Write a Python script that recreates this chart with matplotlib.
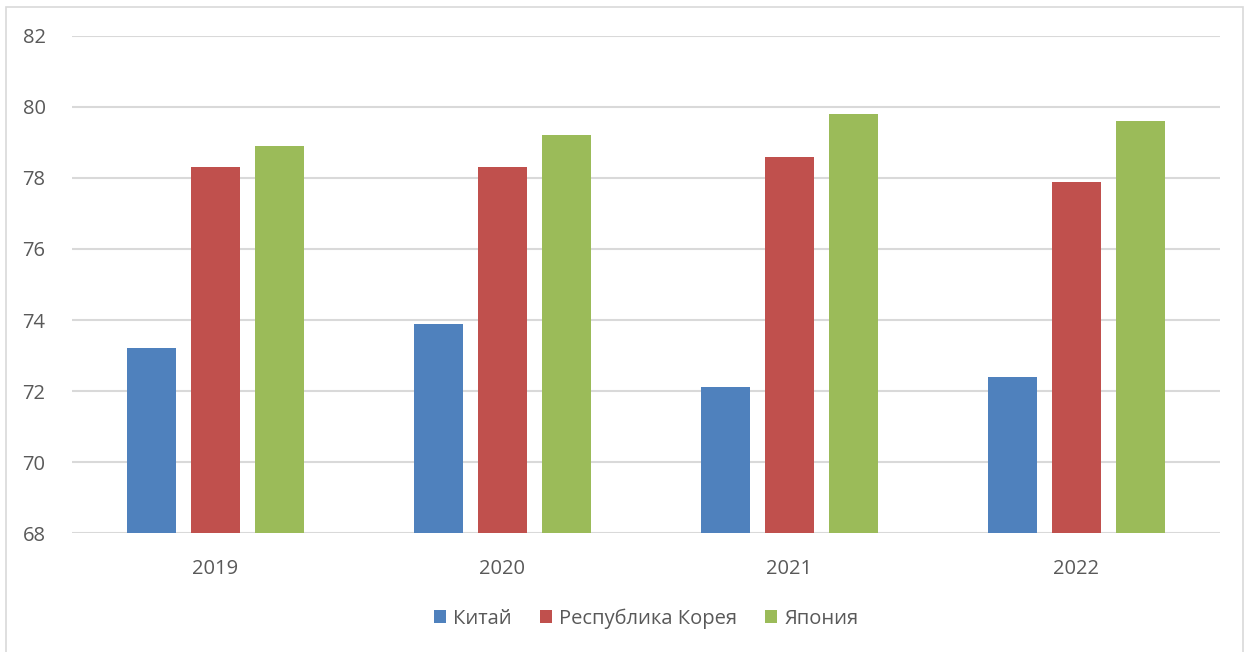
import matplotlib.pyplot as plt
import matplotlib.patches as mpatches
import numpy as np

plt.rcParams['font.family'] = ['Open Sans', 'DejaVu Sans']

years = ['2019', '2020', '2021', '2022']
series_names = ['Китай', 'Республика Корея', 'Япония']
china = [73.2, 73.9, 72.1, 72.4]
korea = [78.3, 78.3, 78.6, 77.9]
japan = [78.9, 79.2, 79.8, 79.6]
colors = ['#4f81bd', '#c0504d', '#9bbb59']

text_color = '#595959'

fig = plt.figure(figsize=(12.5, 6.52), dpi=100)
ax = fig.add_axes([0.0576, 0.1825, 0.9184, 0.7623])

x = np.arange(len(years))
width = 0.174
step = 0.223
for i, (vals, name) in enumerate(zip([china, korea, japan], series_names)):
    ax.bar(x + (i - 1) * step, np.array(vals) - 68, bottom=68, width=width,
           color=colors[i], label=name, zorder=3)

ax.set_xlim(-0.5, len(years) - 0.5)
ax.set_ylim(68, 82)
ax.set_yticks(range(68, 83, 2))
ax.set_xticks(x)
ax.set_xticklabels(years)
ax.grid(axis='y', color='#d9d9d9', linewidth=1.5, zorder=0)
for s in ax.spines.values():
    s.set_visible(False)
ax.tick_params(length=0, labelsize=14.5, colors=text_color)
ax.tick_params(axis='x', pad=19)
ax.tick_params(axis='y', pad=19)

leg = ax.legend(loc='upper center', bbox_to_anchor=(0.5, -0.115), ncol=3,
                frameon=False, fontsize=14.5, handlelength=0.6, handleheight=0.6,
                handletextpad=0.35, columnspacing=1.4)
for t in leg.get_texts():
    t.set_color(text_color)

# outer chart border
fig.patches.append(mpatches.Rectangle((6 / 1250, -0.01), 1237 / 1250, 1 - 7 / 652 + 0.01,
                                      transform=fig.transFigure, fill=False,
                                      edgecolor='#d9d9d9', linewidth=1.2))

fig.savefig('out.png', dpi=100)
